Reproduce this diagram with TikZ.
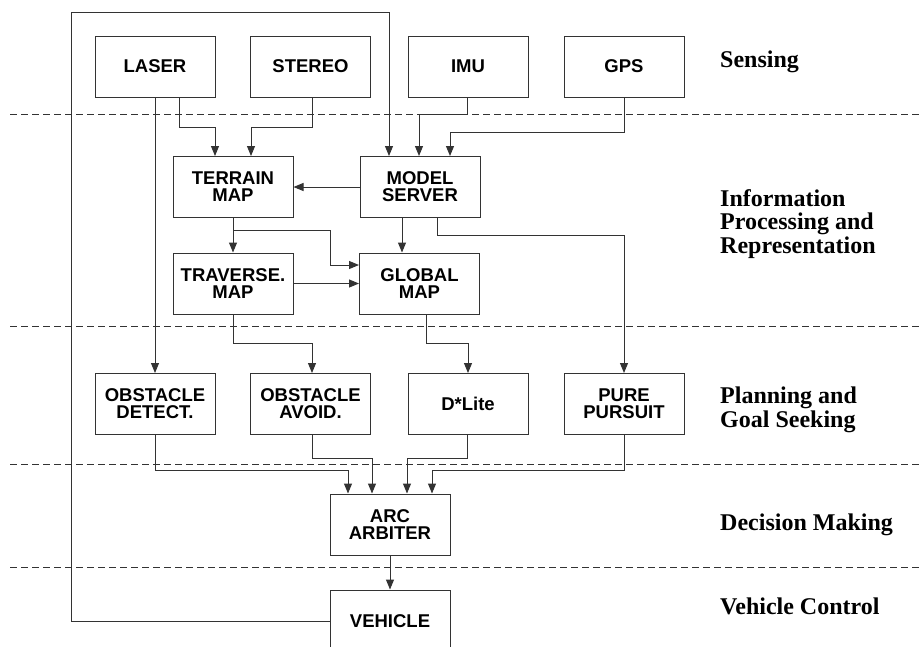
\documentclass[tikz,border=0pt]{standalone}
\usepackage{fontspec}
\setmainfont{Liberation Sans}
\newfontfamily\labelfont{Liberation Serif}
\usetikzlibrary{arrows.meta,calc}
\tikzset{
  box/.style={draw=black!80, line width=1pt, minimum width=120pt, minimum height=61pt,
    inner sep=0pt, align=center, font=\fontsize{18.5}{17}\selectfont\bfseries},
  conn/.style={draw=black!80, line width=1pt},
  arr/.style={conn, -{Triangle[length=10pt,width=8pt]}},
  layer/.style={draw=black!80, line width=1pt, dash pattern=on 7pt off 4pt},
  lvl/.style={anchor=base west, inner sep=0pt, align=left,
    font=\fontsize{24}{23.5}\selectfont\labelfont\bfseries}
}
\begin{document}
\begin{tikzpicture}[x=1pt, y=-1pt]
\path[use as bounding box, clip] (0,0) rectangle (922,646);
\fill[white] (0,0) rectangle (922,646);

% layer separators
\draw[layer] (10,114) -- (922,114);
\draw[layer] (10,326) -- (922,326);
\draw[layer] (10,464) -- (922,464);
\draw[layer] (10,567) -- (922,567);

% boxes
\node[box] (laser) at (155,66.5) {LASER};
\node[box] (stereo) at (310.5,66.5) {STEREO};
\node[box] (imu) at (468,66.5) {IMU};
\node[box] (gps) at (624,66.5) {GPS};
\node[box] (terrain) at (233,187) {TERRAIN\\MAP};
\node[box] (ms) at (420,187) {MODEL\\SERVER};
\node[box] (trav) at (233,283.5) {TRAVERSE.\\MAP};
\node[box] (gm) at (419.5,283.5) {GLOBAL\\MAP};
\node[box] (od) at (155,404) {OBSTACLE\\DETECT.};
\node[box] (oa) at (310.5,404) {OBSTACLE\\AVOID.};
\node[box] (dl) at (468,404) {D*Lite};
\node[box] (pp) at (624,404) {PURE\\PURSUIT};
\node[box] (arc) at (390,524.5) {ARC\\ARBITER};
\node[box, minimum height=62pt] (veh) at (390,621) {VEHICLE};

% level labels (base = baseline of last line)
\node[lvl] (l1) at (720,67) {Sensing};
\node[lvl] (l2) at (720,253) {Information\\Processing and\\Representation};
\node[lvl] (l3) at (720,427) {Planning and\\Goal Seeking};
\node[lvl] (l4) at (720,530) {Decision Making};
\node[lvl] (l5) at (720,614) {Vehicle Control};

% sensing -> processing
\draw[arr] (laser.south) -- (od.north);
\draw[arr] ([xshift=24pt]laser.south) -- ++(0,30) -| ($(terrain.north)+(-18,0)$);
\draw[arr] ([xshift=1.5pt]stereo.south) -- ++(0,30) -| ($(terrain.north)+(18,0)$);
\draw[arr] ([xshift=-1pt]imu.south) -- ++(0,17) -| ($(ms.north)+(-1,0)$);
\draw[arr] (gps.south) -- ++(0,35) -| ($(ms.north)+(30,0)$);

% feedback from vehicle
\coordinate (fb) at (71,12);
\draw[arr] (veh.west) -| (fb) -| ($(ms.north)+(-31,0)$);

% processing
\draw[arr] (ms.west) -- (terrain.east);
\draw[arr] ($(ms.south)+(-18,0)$) -- ($(gm.north)+(-17.5,0)$);
\draw[arr] ($(ms.south)+(17,0)$) -- ++(0,17) -| (pp.north);
\draw[arr] (terrain.south) -- (trav.north);
\coordinate (tg) at ($(gm.west)+(0,-18.5)$);
\draw[arr] (terrain.south) -- ++(0,12) -| ($(tg)+(-29,0)$) -- (tg);
\draw[arr] (trav.east) -- (gm.west);
\draw[arr] (trav.south) -- ++(0,29) -| ($(oa.north)+(1.5,0)$);
\draw[arr] ($(gm.south)+(6.5,0)$) -- ++(0,29) -| (dl.north);

% planning -> arbiter
\draw[arr] (od.south) -- ++(0,35) -| ($(arc.north)+(-42,0)$);
\draw[arr] ($(oa.south)+(1.5,0)$) -- ++(0,23) -| ($(arc.north)+(-18,0)$);
\draw[arr] ($(dl.south)+(-1,0)$) -- ++(0,23) -| ($(arc.north)+(17,0)$);
\draw[arr] (pp.south) -- ++(0,35) -| ($(arc.north)+(42,0)$);
\draw[arr] (arc.south) -- (veh.north);
\end{tikzpicture}
\end{document}
